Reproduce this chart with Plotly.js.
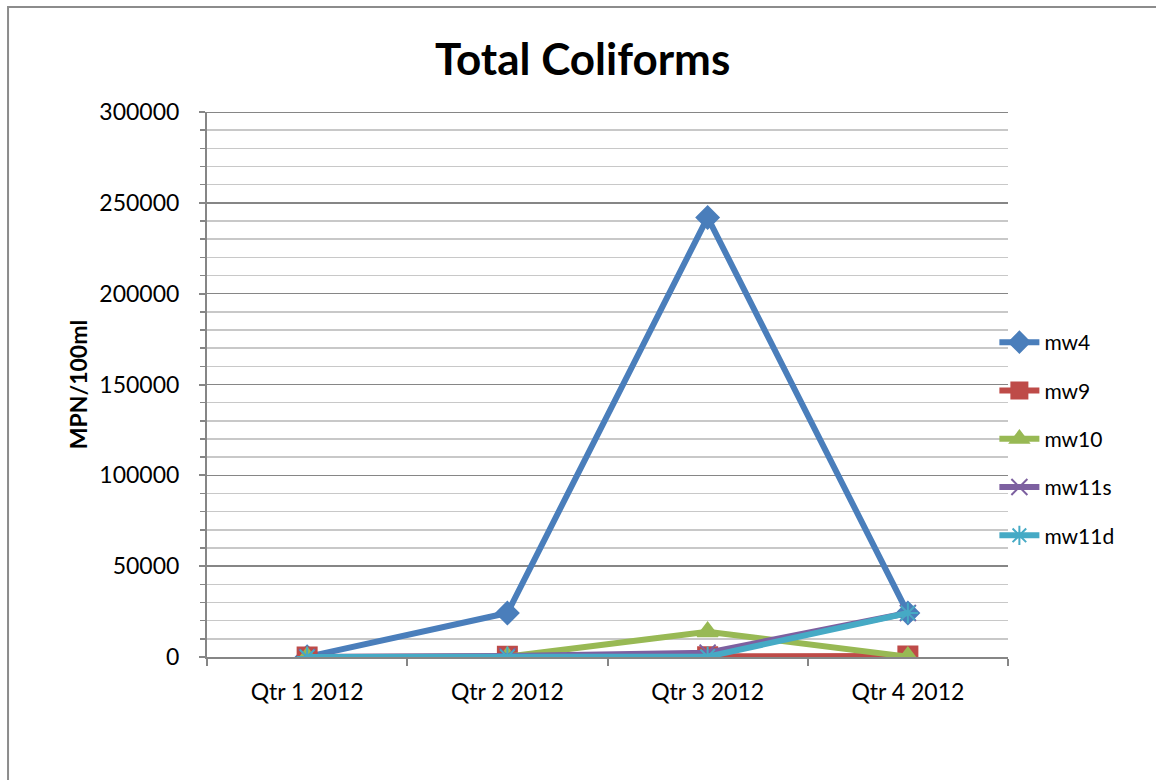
<!DOCTYPE html>
<html>
<head>
<meta charset="utf-8">
<script src="https://cdn.plot.ly/plotly-3.0.1.min.js"></script>
<style>html,body{margin:0;padding:0;background:#fff;}#chart{width:1156px;height:780px;}</style>
</head>
<body>
<div id="chart"></div>
<script>
const categories = ["Qtr 1 2012", "Qtr 2 2012", "Qtr 3 2012", "Qtr 4 2012"];
const seriesNames = ["mw4", "mw9", "mw10", "mw11s", "mw11d"];
const mw4 = [100, 24196, 241960, 24196];
const mw9 = [20, 400, 100, 600];
const mw10 = [10, 200, 13900, 200];
const mw11s = [10, 500, 2400, 24196];
const mw11d = [10, 100, 200, 24196];
const seriesValues = [mw4, mw9, mw10, mw11s, mw11d];
const colors = ["#4a7ebb", "#be4b48", "#98b954", "#7d60a0", "#46aac5"];
const symbols = ["diamond", "square", "triangle-up", "x-thin-open", "asterisk-open"];
const sizes = [17, 19, 18, 16, 17];
const yMax = 300000;

const FONT = "Lato, 'Open Sans', sans-serif";
const traces = seriesNames.map((n, i) => ({
  x: categories, y: seriesValues[i], name: n, type: "scatter", mode: "lines+markers",
  legendgroup: n,
  line: {color: colors[i], width: 6},
  marker: {symbol: symbols[i], size: sizes[i], color: colors[i], line: {color: colors[i], width: 2}}
}));

const layout = {
  width: 1156, height: 780,
  margin: {l: 207, r: 148, t: 112, b: 123},
  paper_bgcolor: "#fff", plot_bgcolor: "#fff",
  font: {family: FONT, size: 20, color: "#000"},
  title: {text: "<b>Total Coliforms</b>", x: 0.504, xref: "container", y: 0.924, yref: "container", yanchor: "middle",
          font: {family: FONT, size: 44, color: "#000"}},
  xaxis: {
    type: "category", range: [-0.5, 3.5], tickson: "boundaries",
    showline: true, linecolor: "#868686", linewidth: 2,
    ticks: "outside", ticklen: 7, tickcolor: "#868686", tickwidth: 2,
    showgrid: false, zeroline: false,
    tickfont: {family: FONT, size: 23}, ticklabelstandoff: 13
  },
  yaxis: {
    range: [0, yMax], dtick: 50000, tickformat: "d",
    showline: true, linecolor: "#868686", linewidth: 2,
    ticks: "outside", ticklen: 6, tickcolor: "#868686", tickwidth: 2,
    showgrid: true, gridcolor: "#868686", gridwidth: 1.5, zeroline: false,
    minor: {dtick: 10000, showgrid: true, gridcolor: "#c8c8c8", gridwidth: 1.5, ticks: "outside", ticklen: 5, tickcolor: "#868686", tickwidth: 1.5},
    tickfont: {family: FONT, size: 23}, ticklabelstandoff: 15,
    title: {text: "<b>MPN/100ml</b>", font: {family: FONT, size: 23}, standoff: 5}
  },
  showlegend: true,
  legend: {x: 0.983, xanchor: "left", y: 0.40, yanchor: "middle", font: {family: FONT, size: 21},
           tracegroupgap: 18, bgcolor: "rgba(0,0,0,0)", itemwidth: 40},
  shapes: [
    {type: "rect", xref: "paper", yref: "paper", x0: -0.2484, x1: 1.25, y0: -0.3, y1: 1.1927,
     line: {color: "#8c8c8c", width: 2}, fillcolor: "rgba(0,0,0,0)", layer: "below"},
    {type: "line", xref: "paper", yref: "y", x0: 0, x1: 1, y0: yMax, y1: yMax,
     line: {color: "#868686", width: 2}, layer: "below"}
  ]
};

Plotly.newPlot("chart", traces, layout, {displayModeBar: false, staticPlot: true});
</script>
</body>
</html>
